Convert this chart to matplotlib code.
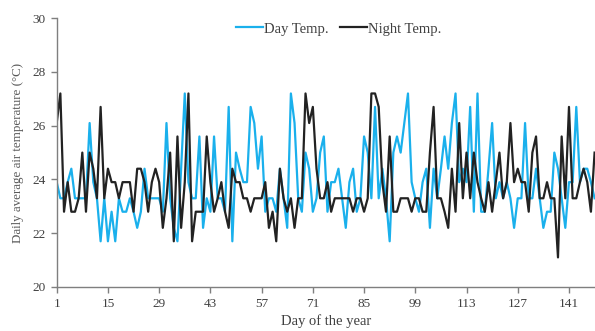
import numpy as np
import matplotlib
matplotlib.use("Agg")
import matplotlib.pyplot as plt

# Daily average air temperature (degC)
day_temp = [
    23.9, 23.3, 23.3, 23.9, 24.4, 23.3, 23.3, 23.3, 23.3, 26.1,
    23.9, 23.3, 21.7, 23.3, 21.7, 22.8, 21.7, 23.3, 22.8, 22.8,
    23.3, 22.8, 22.2, 22.8, 24.4, 23.3, 23.3, 23.3, 23.3, 22.8,
    26.1, 23.3, 22.2, 21.7, 24.4, 27.2, 23.9, 23.3, 23.3, 25.6,
    22.2, 23.3, 22.8, 25.6, 23.3, 23.3, 22.8, 26.7, 21.7, 25.0,
    24.4, 23.9, 23.9, 26.7, 26.1, 24.4, 25.6, 22.8, 23.3, 23.3,
    22.8, 24.4, 23.3, 22.2, 27.2, 26.1, 23.3, 22.8, 25.0, 24.4,
    22.8, 23.3, 25.0, 25.6, 22.8, 23.9, 23.9, 24.4, 23.3, 22.2,
    23.9, 24.4, 22.8, 23.3, 25.6, 25.0, 23.3, 26.7, 23.3, 24.4,
    23.3, 21.7, 25.0, 25.6, 25.0, 26.1, 27.2, 23.9, 23.3, 22.8,
    23.9, 24.4, 22.2, 24.4, 23.3, 24.4, 25.6, 24.4, 26.1, 27.2,
    23.9, 24.4, 23.9, 26.7, 22.8, 27.2, 22.8, 22.8, 24.4, 26.1,
    23.3, 23.9, 23.3, 23.9, 23.3, 22.2, 23.3, 23.3, 26.1, 23.3,
    23.3, 24.4, 23.3, 22.2, 22.8, 22.8, 25.0, 24.4, 23.3, 22.2,
    23.9, 23.9, 26.7, 23.9, 24.4, 24.4, 23.9, 23.3,
]
night_temp = [
    26.1, 27.2, 22.8, 23.9, 22.8, 22.8, 23.3, 25.0, 22.8, 25.0,
    24.4, 23.3, 26.7, 23.3, 24.4, 23.9, 23.9, 23.3, 23.9, 23.9,
    23.9, 22.8, 24.4, 24.4, 23.9, 22.8, 23.9, 24.4, 23.9, 22.2,
    23.3, 25.0, 21.7, 25.6, 22.2, 23.9, 27.2, 21.7, 22.8, 22.8,
    22.8, 25.6, 23.9, 22.8, 23.3, 23.9, 22.8, 22.2, 24.4, 23.9,
    23.9, 23.3, 23.3, 22.8, 23.3, 23.3, 23.3, 23.9, 22.2, 22.8,
    21.7, 24.4, 23.3, 22.8, 23.3, 22.2, 23.3, 23.3, 27.2, 26.1,
    26.7, 24.4, 23.3, 23.3, 23.9, 22.8, 23.3, 23.3, 23.3, 23.3,
    23.3, 22.8, 23.3, 23.3, 22.8, 23.3, 27.2, 27.2, 26.7, 23.9,
    22.8, 25.6, 22.8, 22.8, 23.3, 23.3, 23.3, 22.8, 23.3, 23.3,
    22.8, 22.8, 25.0, 26.7, 23.3, 23.3, 22.8, 22.2, 24.4, 22.8,
    26.1, 23.3, 25.0, 23.3, 25.0, 23.9, 23.3, 22.8, 23.9, 22.8,
    23.9, 25.0, 23.3, 23.9, 26.1, 23.9, 24.4, 23.9, 23.9, 22.8,
    25.0, 25.6, 23.3, 23.3, 23.9, 23.3, 23.3, 21.1, 25.6, 23.3,
    26.7, 23.3, 23.3, 23.9, 24.4, 23.9, 22.8, 25.0,
]
days = np.arange(1, len(day_temp) + 1)
x_ticks = [1, 15, 29, 43, 57, 71, 85, 99, 113, 127, 141]
y_ticks = [20, 22, 24, 26, 28, 30]

plt.rcParams['font.family'] = ['Liberation Serif', 'DejaVu Serif']
text_color = '#404040'
axis_color = '#7f7f7f'

fig = plt.figure(figsize=(5.95, 3.31), dpi=100)
ax = fig.add_axes([0.0953, 0.133, 0.904, 0.812])

ax.plot(days, day_temp, color='#1ab0ec', linewidth=1.6, label='Day Temp.')
ax.plot(days, night_temp, color='#222222', linewidth=1.6, label='Night Temp.')

ax.set_xlim(1, 148)
ax.set_ylim(20, 30)
ax.set_xticks(x_ticks)
ax.set_yticks(y_ticks)

for side in ['top', 'right']:
    ax.spines[side].set_visible(False)
for side in ['left', 'bottom']:
    ax.spines[side].set_color(axis_color)
    ax.spines[side].set_linewidth(1.0)
ax.tick_params(direction='out', length=4, width=1.0, color=axis_color,
               labelcolor=text_color, labelsize=9.5, pad=4)

ax.set_xlabel('Day of the year', fontsize=10.5, color=text_color, labelpad=3)
ax.set_ylabel('Daily average air temperature (\u00b0C)', fontsize=9.4,
              color='#595959', labelpad=6)

ax.legend(loc='center', bbox_to_anchor=(0.524, 0.96), ncol=2, frameon=False,
          fontsize=10.5, handlelength=1.85, handletextpad=0.1, columnspacing=0.75,
          labelcolor=text_color)

fig.savefig('out.png', dpi=100)
